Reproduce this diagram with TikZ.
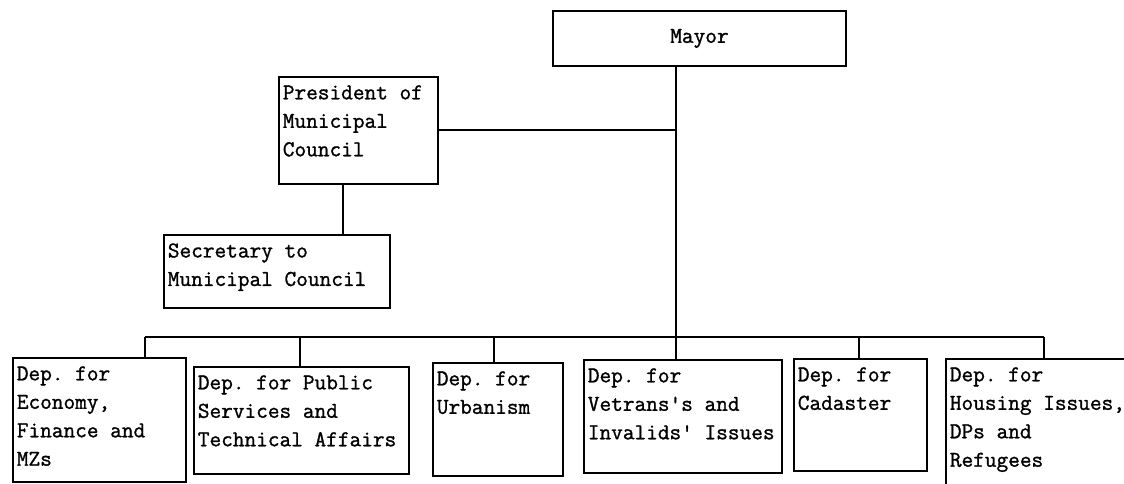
\documentclass[tikz,border=0pt]{standalone}
\usepackage{fontspec}
\setmonofont{Latin Modern Mono}[FakeBold=1.2]

\begin{document}
\begin{tikzpicture}[x=0.02cm, y=-0.02cm,
    font=\ttfamily\fontsize{12.9}{16.2}\selectfont,
    unit/.style={draw, line width=1.1pt, anchor=north west, inner sep=0pt},
    txt/.style={anchor=north west, align=left, inner xsep=0.09cm, inner ysep=0.18cm},
    link/.style={line width=1.1pt}
]
\clip (0,0) rectangle (1124,483);

% Top level
\node[unit, minimum width=5.86cm, minimum height=1.10cm] (mayor) at (552,10) {Mayor};

% Council branch
\node[unit, minimum width=3.18cm, minimum height=2.14cm] (pres) at (278,76) {};
\node[txt] (pres-txt) at (pres.north west) {President of\\Municipal\\Council};
\node[unit, minimum width=4.52cm, minimum height=1.46cm] (secr) at (163,234) {};
\node[txt] (secr-txt) at (secr.north west) {Secretary to\\Municipal Council};

% Departments
\node[unit, minimum width=3.46cm, minimum height=2.48cm] (econ) at (12,357) {};
\node[txt] (econ-txt) at (econ.north west) {Dep. for\\Economy,\\Finance and\\MZs};
\node[unit, minimum width=4.30cm, minimum height=2.14cm] (pub) at (193,366) {};
\node[txt] (pub-txt) at (pub.north west) {Dep. for Public\\Services and\\Technical Affairs};
\node[unit, minimum width=2.60cm, minimum height=2.26cm] (urb) at (432,362) {};
\node[txt] (urb-txt) at (urb.north west) {Dep. for\\Urbanism};
\node[unit, minimum width=3.96cm, minimum height=2.26cm] (vet) at (583,359) {};
\node[txt] (vet-txt) at (vet.north west) {Dep. for\\Vetrans's and\\Invalids' Issues};
\node[unit, minimum width=2.66cm, minimum height=2.24cm] (cad) at (793,358) {};
\node[txt] (cad-txt) at (cad.north west) {Dep. for\\Cadaster};
\node[unit, minimum width=4.20cm, minimum height=2.60cm] (hous) at (945,358) {};
\node[txt] (hous-txt) at (hous.north west) {Dep. for\\Housing Issues,\\DPs and\\Refugees};

% Connectors
\coordinate (spine) at (676,337);
\draw[link] (mayor.south -| spine) -- (spine) -- (spine |- vet.north);
\draw[link] (pres.east) -- (pres.east -| spine);
\coordinate (pdrop) at (343,183);
\draw[link] (pdrop) -- (pdrop |- secr.north);
\coordinate (bus-l) at (145,337);
\coordinate (bus-r) at (1044,337);
\draw[link] (bus-l) -- (bus-r);
\foreach \n/\x in {econ/145, pub/300, urb/494, cad/859, hous/1044}{
  \coordinate (drop) at (\x,337);
  \draw[link] (drop) -- (drop |- \n.north);
}

\end{tikzpicture}
\end{document}
